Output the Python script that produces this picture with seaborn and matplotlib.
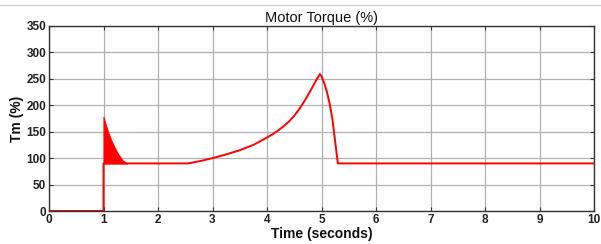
import matplotlib
matplotlib.use("Agg")
import matplotlib.pyplot as plt
import seaborn as sns
import numpy as np
import pandas as pd
from matplotlib.lines import Line2D

# Main torque trace (time in s, torque in %)
t_main = [0.0, 1.0, 1.0, 1.43, 2.55, 2.8, 3.0, 3.25, 3.5, 3.75, 4.0, 4.1, 4.2, 4.3, 4.4, 4.5, 4.6, 4.7, 4.8, 4.9, 4.97,
          5.0, 5.05, 5.1, 5.15, 5.2, 5.25, 5.30, 10.0]
tm_main = [0.0, 0.0, 90.0, 90.0, 90.0, 95.0, 100.0, 107.0, 115.0, 125.0, 139.0, 145.0, 152.0, 160.0, 169.0, 180.0, 194.0, 210.0, 228.0, 247.0, 259.0,
           255.0, 242.0, 225.0, 203.0, 174.0, 132.0, 90.0, 90.0]

# Start-up oscillation envelope (filled band above 90 %)
t_env = [1.0, 1.03, 1.06, 1.1, 1.15, 1.2, 1.25, 1.3, 1.35, 1.4, 1.43]
tm_env_hi = [178.0, 167.0, 157.0, 145.0, 132.0, 121.0, 111.0, 103.0, 96.0, 92.0, 90.0]
tm_env_lo = [90.0] * len(t_env)

x_ticks = list(range(0, 11))
y_ticks = list(range(0, 351, 50))

sns.set_theme(style="whitegrid")
plt.rcParams['font.family'] = ['Liberation Sans', 'DejaVu Sans']

fig = plt.figure(figsize=(6.01, 2.44), dpi=100)
ax = fig.add_axes([49/601, 33/244, (594-49)/601, (211-26)/244])
ax.set_facecolor("white")

df = pd.DataFrame({"t": t_main, "tm": tm_main})
sns.lineplot(data=df, x="t", y="tm", ax=ax, color="#ff0000", linewidth=1.4, sort=False, estimator=None)
ax.fill_between(t_env, tm_env_lo, tm_env_hi, color="#ff0000", linewidth=0.8, edgecolor="#ff0000")

ax.set_xlim(0, 10)
ax.set_ylim(0, 350)
ax.set_xticks(x_ticks)
ax.set_yticks(y_ticks)
ax.grid(True, color="#b0b0b0", linewidth=0.9, linestyle="-")
for s in ax.spines.values():
    s.set_visible(True)
    s.set_color("#333333")
    s.set_linewidth(1.0)
ax.tick_params(direction="in", length=3, width=0.8, color="#333333",
               top=True, right=True, bottom=True, left=True,
               labelsize=8.5, pad=2, labelcolor="#222222")
for lbl in ax.get_xticklabels() + ax.get_yticklabels():
    lbl.set_fontweight("bold")

ax.set_title("Motor Torque (%)", fontsize=10.5, pad=3, color="#111111")
ax.set_xlabel("Time (seconds)", fontsize=10, fontweight="bold", labelpad=1, color="#111111")
ax.set_ylabel("Tm (%)", fontsize=10, fontweight="bold", labelpad=2, color="#111111")

fig.add_artist(Line2D([0, 1], [1 - 4.5/244, 1 - 4.5/244], transform=fig.transFigure,
                      color="#d0d0d0", linewidth=1.0))

fig.savefig("out.png", dpi=100, facecolor="white")
